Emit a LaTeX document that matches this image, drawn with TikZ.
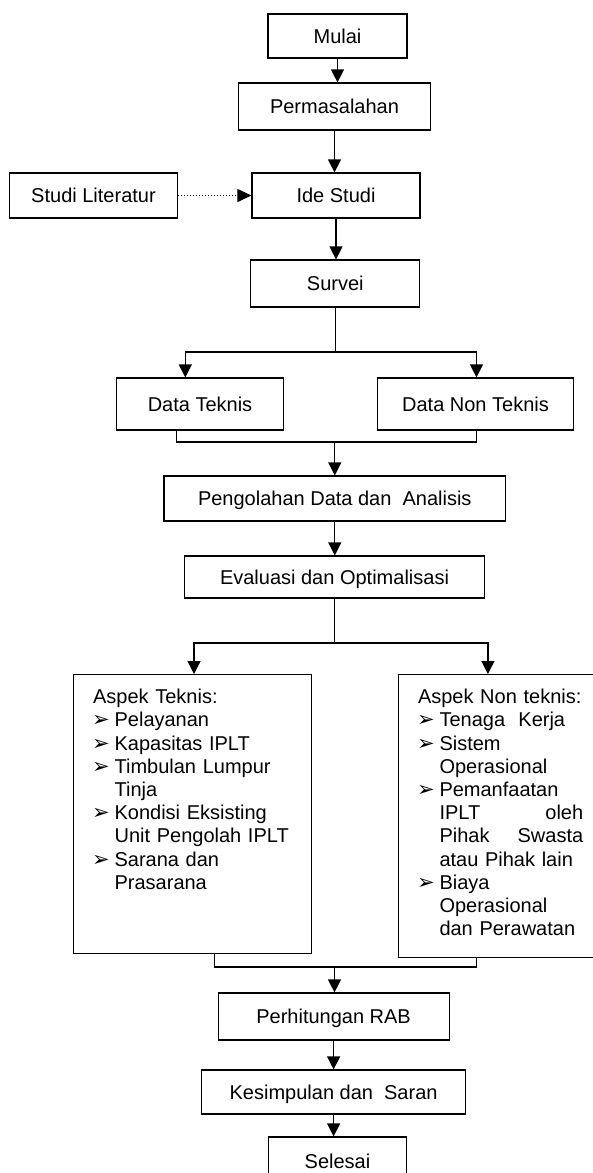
\documentclass[tikz,border=0pt]{standalone}
\usepackage{fontspec}
\setmainfont{Liberation Sans}
\newfontfamily\pointfont{DejaVu Sans}
\usepackage{tikz}
\usetikzlibrary{arrows.meta}
\tikzstyle{box} = [draw, line width=1.2pt, inner sep=0pt, text height=14.3pt, text depth=0pt, font=\fontsize{20}{23.2}\selectfont]
\tikzstyle{listbox} = [box, anchor=north west, align=left, inner xsep=19.5pt, inner ysep=15pt, text height=14pt]
\tikzstyle{link} = [line width=1.2pt]
\tikzstyle{arrow} = [line width=1.2pt, -{Triangle[width=13pt,length=13pt]}]
\tikzstyle{dots} = [dotted, line width=1pt, -{Triangle[width=13pt,length=14pt]}]
\newcommand{\pnt}{\makebox[21.5pt][l]{\hspace*{-1pt}\pointfont\fontsize{21}{21}\selectfont ➢}}
\newcommand{\nxt}{\hspace*{21.5pt}}
\newcommand{\rata}[2]{\makebox[143.7pt]{#1\hfill #2}}

\begin{document}
\begin{tikzpicture}[x=1pt, y=-1pt]
            \useasboundingbox (0,0) rectangle (593,1173);
            \node[box, minimum width=139pt, minimum height=44pt] (mulai) at (337.5,36) {Mulai};
            \node[box, minimum width=192pt, minimum height=47pt] (masalah) at (334.5,106.5) {Permasalahan\hspace{22pt}};
            \node[box, minimum width=168pt, minimum height=45pt] (ide) at (336,195.5) {Ide Studi};
            \node[box, minimum width=168pt, minimum height=45pt] (literatur) at (93.5,195.5) {Studi Literatur};
            \node[box, minimum width=169pt, minimum height=47pt] (survei) at (335.3,283.5) {Survei};
            \node[box, minimum width=167pt, minimum height=52pt] (teknis) at (200,404) {Data Teknis};
            \node[box, minimum width=195.5pt, minimum height=52pt] (nonteknis) at (475.5,404) {Data Non Teknis};
            \node[box, minimum width=341.5pt, minimum height=45pt] (olah) at (334.8,498.5) {Pengolahan Data dan\ \ Analisis};
            \node[box, minimum width=300.6pt, minimum height=42pt] (evaluasi) at (334.5,577) {Evaluasi dan Optimalisasi};
            \node[listbox, text width=199.2pt, text depth=235pt] (aspek) at (73,674) {Aspek Teknis:\\
                \pnt Pelayanan\\
                \pnt Kapasitas IPLT\\
                \pnt Timbulan Lumpur\\
                \nxt Tinja\\
                \pnt Kondisi Eksisting\\
                \nxt Unit Pengolah IPLT\\
                \pnt Sarana dan\\
                \nxt Prasarana};
            % kotak kanan terpotong di tepi gambar
            \node[listbox, text width=205pt, text depth=238.7pt] (aspeknon) at (397.9,674) {Aspek Non teknis:\\
                \pnt Tenaga\ \ Kerja\\
                \pnt Sistem\\
                \nxt Operasional\\
                \pnt Pemanfaatan\\
                \nxt \rata{IPLT}{oleh}\\
                \nxt \rata{Pihak}{Swasta}\\
                \nxt atau Pihak lain\\
                \pnt Biaya\\
                \nxt Operasional\\
                \nxt dan Perawatan};
            \node[box, minimum width=231pt, minimum height=47pt] (rab) at (333.6,1016.5) {Perhitungan RAB};
            \node[box, minimum width=264pt, minimum height=44pt] (simpul) at (333.6,1092) {Kesimpulan dan\ \ Saran\hspace{17pt}};
            \node[box, minimum width=138pt, minimum height=48pt] (selesai) at (337.5,1161) {Selesai};

            \draw[arrow] (mulai.south) -- (mulai.south |- masalah.north);
            \draw[arrow] (masalah.south) -- (masalah.south |- ide.north);
            \draw[dots] (literatur.east) -- (ide.west);
            \draw[arrow] (ide.south) -- (ide.south |- survei.north);
            \coordinate (cabang1) at (335.3,352);
            \draw[link] (survei.south) -- (cabang1);
            \draw[arrow] (cabang1) -| ([xshift=-14.7pt]teknis.north);
            \draw[arrow] (cabang1) -| ([xshift=1pt]nonteknis.north);
            \coordinate (gabung1) at (334.8,442);
            \draw[link] ([xshift=-23.4pt]teknis.south) |- (gabung1) -| ([xshift=1pt]nonteknis.south);
            \draw[arrow] (gabung1) -- (olah.north);
            \draw[arrow] (olah.south) -- (olah.south |- evaluasi.north);
            \coordinate (cabang2) at (334.5,643);
            \draw[link] (evaluasi.south) -- (cabang2);
            \draw[arrow] (cabang2) -| ([xshift=1.3pt]aspek.north);
            \draw[arrow] (cabang2) -| (487.9,674);
            \coordinate (gabung2) at (334.5,967);
            \draw[link] ([xshift=21.4pt]aspek.south) |- (gabung2) -| (476.5,956.7);
            \draw[arrow] (gabung2) -- (gabung2 |- rab.north);
            \draw[arrow] (rab.south) -- (rab.south |- simpul.north);
            \draw[arrow] (simpul.south) -- (simpul.south |- selesai.north);
        \end{tikzpicture}
\end{document}
